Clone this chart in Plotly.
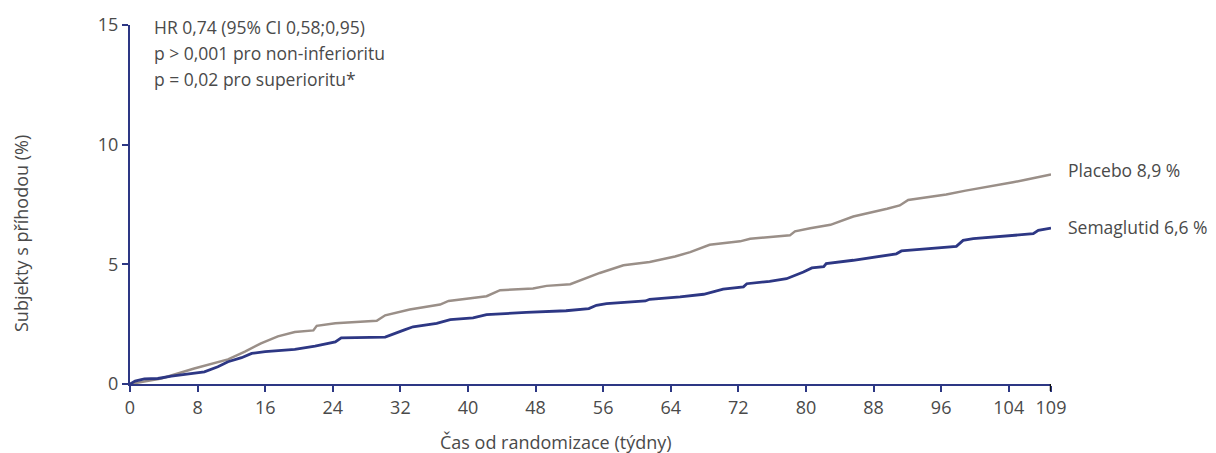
import plotly.graph_objects as go

# Data
placebo_weeks = [0, 3.7, 7.6, 11.6, 13.6, 15.5, 17.5, 19.5, 21.7, 22.1, 24.3, 28.2, 29.2, 30.2,
                 33.1, 36.7, 37.7, 42.2, 43.8, 47.7, 49.3, 52.1, 54.1, 55.6, 58.4, 61.5, 64.5,
                 66.3, 68.6, 72.2, 73.4, 78.1, 78.7, 80.5, 82.9, 85.6, 89.6, 91.1, 92.1, 96.6,
                 98.9, 101.3, 104.5, 106, 109]
placebo_pct = [0, 0.23, 0.65, 1.03, 1.35, 1.7, 1.99, 2.17, 2.24, 2.43, 2.54, 2.63, 2.64, 2.87,
               3.11, 3.32, 3.47, 3.67, 3.92, 3.99, 4.1, 4.17, 4.44, 4.64, 4.96, 5.1, 5.33,
               5.51, 5.82, 5.96, 6.07, 6.21, 6.38, 6.51, 6.65, 7.0, 7.32, 7.46, 7.69, 7.92,
               8.08, 8.22, 8.43, 8.53, 8.75]

sema_weeks = [0, 0.6, 1.7, 3.3, 4.9, 8.8, 10.4, 11.6, 13.2, 14.4, 16, 19.5, 21.9, 24.3, 25,
              30.2, 32.4, 33.5, 36.3, 37.9, 40.6, 42.2, 46.9, 51.6, 54.3, 55.2, 56.4, 61,
              61.5, 65.1, 67.9, 70.2, 72.6, 73, 75.7, 77.7, 79.7, 80.7, 82.1, 82.4, 85.6, 88,
              90.7, 91.3, 97.8, 98.6, 99.8, 106.9, 107.5, 109]
sema_pct = [0, 0.12, 0.21, 0.23, 0.33, 0.51, 0.72, 0.93, 1.1, 1.28, 1.35, 1.45, 1.58, 1.76, 1.93,
            1.96, 2.25, 2.39, 2.53, 2.69, 2.76, 2.9, 2.99, 3.06, 3.15, 3.29, 3.36, 3.47,
            3.54, 3.64, 3.75, 3.96, 4.06, 4.19, 4.29, 4.4, 4.68, 4.85, 4.9, 5.03, 5.17, 5.31,
            5.44, 5.56, 5.75, 6.0, 6.07, 6.28, 6.42, 6.51]

x_ticks = [0, 8, 16, 24, 32, 40, 48, 56, 64, 72, 80, 88, 96, 104, 109]
y_ticks = [0, 5, 10, 15]

stats_lines = ["HR 0,74 (95% CI 0,58;0,95)",
               "p > 0,001 pro non-inferioritu",
               "p = 0,02 pro superioritu*"]
series_labels = ["Placebo 8,9 %", "Semaglutid 6,6 %"]
x_title = "Čas od randomizace (týdny)"
y_title = "Subjekty s příhodou (%)"

NAVY = "#2d3784"
GREY = "#9a8f88"
TXT = "#4a4a4a"
FONT = "Open Sans"

# page has an 8px body margin; plot area target in page px: x 130..1051, y 25..384
PW, PH = 921, 359

fig = go.Figure()
fig.add_trace(go.Scatter(x=placebo_weeks, y=placebo_pct, mode="lines",
                         line=dict(color=GREY, width=2.5), showlegend=False))
fig.add_trace(go.Scatter(x=sema_weeks, y=sema_pct, mode="lines",
                         line=dict(color=NAVY, width=2.8), showlegend=False))

fig.update_layout(
    width=1208, height=445,
    margin=dict(l=122, r=165, t=17, b=69, autoexpand=False),
    paper_bgcolor="white", plot_bgcolor="white",
    font=dict(family=FONT, size=16, color=TXT),
    xaxis=dict(range=[0, 109], tickvals=x_ticks, ticktext=[str(t) for t in x_ticks],
               automargin=False,
               showgrid=False, zeroline=False, showline=True, linecolor=NAVY, linewidth=2,
               ticks="outside", ticklen=6, tickwidth=2, tickcolor=NAVY,
               tickfont=dict(size=18, color=TXT, family=FONT)),
    yaxis=dict(range=[0, 15], tickvals=y_ticks, showgrid=False, zeroline=False,
               automargin=False,
               showline=True, linecolor=NAVY, linewidth=2,
               ticks="outside", ticklen=6, tickwidth=2, tickcolor=NAVY,
               tickfont=dict(size=18, color=TXT, family=FONT)),
)

# the final tick (109) is drawn darker in the reference
fig.add_shape(type="line", xref="x", yref="paper", x0=x_ticks[-1], x1=x_ticks[-1],
              y0=0, y1=-7 / PH, line=dict(color="#111111", width=2.5))

ann = []
for txt, ypx in zip(stats_lines, [27, 53, 79]):
    ann.append(dict(text=txt, xref="paper", yref="paper", x=(152 - 130) / PW,
                    y=(384 - ypx) / PH, xanchor="left", yanchor="middle",
                    showarrow=False, font=dict(size=17.5, color=TXT, family=FONT)))
for txt, xpx, ypx in zip(series_labels, [1066, 1066], [170, 227]):
    ann.append(dict(text=txt, xref="paper", yref="paper", x=(xpx - 130) / PW,
                    y=(384 - ypx) / PH, xanchor="left", yanchor="middle",
                    showarrow=False, font=dict(size=17.5, color=TXT, family=FONT)))
ann.append(dict(text=x_title, xref="paper", yref="paper", x=(556 - 130) / PW,
                y=(384 - 442) / PH, xanchor="center", yanchor="middle",
                showarrow=False, font=dict(size=18, color=TXT, family=FONT)))
ann.append(dict(text=y_title, xref="paper", yref="paper", x=(21 - 130) / PW,
                y=(384 - 234) / PH, xanchor="center", yanchor="middle", textangle=-90,
                showarrow=False, font=dict(size=18, color=TXT, family=FONT)))
fig.update_layout(annotations=ann)

fig.write_html("out.html")
